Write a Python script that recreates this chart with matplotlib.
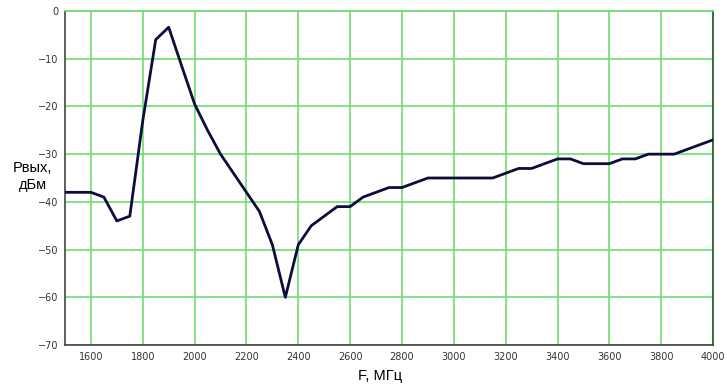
import matplotlib
matplotlib.use('Agg')
import matplotlib.pyplot as plt

# частота, МГц и выходная мощность, дБм
freq = [1500, 1600, 1650, 1700, 1750, 1800, 1850, 1900, 1950, 2000,
        2050, 2100, 2150, 2200, 2250, 2300, 2350, 2400, 2450, 2500,
        2550, 2600, 2650, 2700, 2750, 2800, 2850, 2900, 2950, 3000,
        3050, 3100, 3150, 3200, 3250, 3300, 3350, 3400, 3450, 3500,
        3550, 3600, 3650, 3700, 3750, 3800, 3850, 3900, 3950, 4000]
p_out = [-38, -38, -39, -44, -43, -23, -6, -3.4, -11.5, -19.5,
         -25, -30, -34, -38, -42, -49, -60, -49, -45, -43,
         -41, -41, -39, -38, -37, -37, -36, -35, -35, -35,
         -35, -35, -35, -34, -33, -33, -32, -31, -31, -32,
         -32, -32, -31, -31, -30, -30, -30, -29, -28, -27]

x_ticks = list(range(1600, 4001, 200))
y_ticks = list(range(-70, 1, 10))


def main():
    fig = plt.figure(figsize=(7.27, 3.86), dpi=100)
    ax = fig.add_axes([0.0894, 0.1062, 0.8914, 0.8653])

    ax.plot(freq, p_out, color='#0d0d3d', linewidth=2.0, zorder=3)

    ax.set_xlim(1500, 4000)
    ax.set_ylim(-70, 0)
    ax.set_xticks(x_ticks)
    ax.set_yticks(y_ticks)
    ax.grid(True, color='#70dc70', linewidth=1.2)
    ax.tick_params(length=0, labelsize=7, colors='#333333', pad=5)

    ax.spines['left'].set_color('#444444')
    ax.spines['bottom'].set_color('#444444')
    ax.spines['top'].set_color('#70dc70')
    ax.spines['right'].set_color('#1a5c1a')
    for s in ax.spines.values():
        s.set_linewidth(1.2)

    fig.text(0.045, 0.542, 'Рвых,\nдБм', ha='center', va='center',
             fontsize=10.5, linespacing=1.25, family='Liberation Sans')
    fig.text(0.523, 0.025, 'F, МГц', ha='center', va='center',
             fontsize=10.5, family='Liberation Sans')

    fig.savefig('out.png', dpi=100)


if __name__ == '__main__':
    main()
